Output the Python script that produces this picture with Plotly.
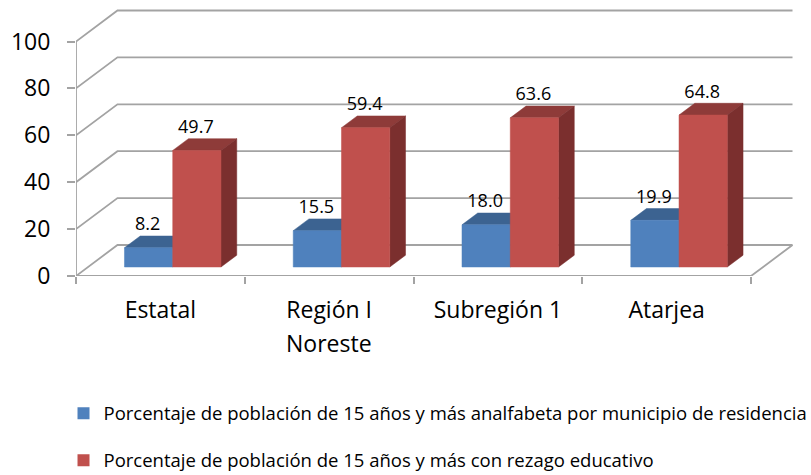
import plotly.graph_objects as go

categories = ["Estatal", "Región I", "Subregión 1", "Atarjea"]
analfabeta = [8.2, 15.5, 18.0, 19.9]
rezago = [49.7, 59.4, 63.6, 64.8]
y_ticks = [0, 20, 40, 60, 80, 100]
name_a = "Porcentaje de población de 15 años y más analfabeta por municipio de residencia"
name_b = "Porcentaje de población de 15 años y más con rezago educativo"

FONT = "Open Sans, sans-serif"
W, H = 811, 475
X0, X4, Y0, Y100 = 75.5, 751.0, 276.0, 41.5
PX_X = (X4 - X0) / 4
PX_Y = (Y0 - Y100) / 100
DEPTH_X = 41.5 / PX_X        # back wall shift in x units
DEPTH_Y = 31.0 / PX_Y        # back wall shift in y units
BAR_W = 48.3 / PX_X
D0, D1 = 0.29, 0.67
BAR_START = (124 - X0) / PX_X - D0 * DEPTH_X
GRID = "#a3a3a3"
TXT = "#000000"


def P(x, y, d):
    return x + d * DEPTH_X, y + d * DEPTH_Y


def poly(points):
    xs, ys = zip(*points)
    return list(xs) + [xs[0], None], list(ys) + [ys[0], None]


def faces(values, shift):
    front, top, side = ([], []), ([], []), ([], [])
    for i, v in enumerate(values):
        a = i + BAR_START + shift
        b = a + BAR_W
        for store, pts in (
            (front, [P(a, 0, D0), P(b, 0, D0), P(b, v, D0), P(a, v, D0)]),
            (top, [P(a, v, D0), P(b, v, D0), P(b, v, D1), P(a, v, D1)]),
            (side, [P(b, 0, D0), P(b, 0, D1), P(b, v, D1), P(b, v, D0)]),
        ):
            xs, ys = poly(pts)
            store[0].extend(xs)
            store[1].extend(ys)
    return front, top, side


def fill(data, color):
    return go.Scatter(x=data[0], y=data[1], mode="lines", fill="toself", fillcolor=color,
                      line=dict(color=color, width=0.5), hoverinfo="skip", showlegend=False)


fig = go.Figure()

# walls and floor
gx, gy = [], []
for t in y_ticks:
    for p in (P(0, t, 0), P(0, t, 1), P(4, t, 1)):
        gx.append(p[0]); gy.append(p[1])
    gx.append(None); gy.append(None)
for p in (P(0, 0, 0), P(4, 0, 0), P(4, 0, 1)):
    gx.append(p[0]); gy.append(p[1])
gx.append(None); gy.append(None)
for p in (P(0, 0, 0), P(0, 100, 0)):
    gx.append(p[0]); gy.append(p[1])
fig.add_trace(go.Scatter(x=gx, y=gy, mode="lines", line=dict(color=GRID, width=1.8),
                         hoverinfo="skip", showlegend=False, cliponaxis=False))

fa, ta, sa = faces(analfabeta, 0)
fb, tb, sb = faces(rezago, BAR_W)
fig.add_trace(fill(ta, "#3c6391"))
fig.add_trace(fill(sa, "#3a5f8b"))
fig.add_trace(fill(fa, "#4f81bd"))
fig.add_trace(fill(tb, "#8e3b39"))
fig.add_trace(fill(sb, "#7b2f2e"))
fig.add_trace(fill(fb, "#c0504d"))

# data labels
LIFT = 22 / PX_Y
for vals, shift in ((analfabeta, 0), (rezago, BAR_W)):
    xs, ys, tx = [], [], []
    for i, v in enumerate(vals):
        px, py = P(i + BAR_START + shift + BAR_W / 2, v + LIFT, D0)
        xs.append(px - 1 / PX_X); ys.append(py); tx.append(f"{v:.1f}")
    fig.add_trace(go.Scatter(x=xs, y=ys, text=tx, mode="text", textposition="middle center",
                             textfont=dict(family=FONT, size=18, color=TXT),
                             hoverinfo="skip", showlegend=False))

# legend entries
for name, color, grp in ((name_a, "#4f81bd", "a"), (name_b, "#c0504d", "b")):
    fig.add_trace(go.Scatter(x=[None], y=[None], mode="markers", name=name, legendgroup=grp,
                             marker=dict(symbol="square", size=12, color=color)))

PLOT_W, PLOT_H = 806 - X0, Y0 - 5
fig.update_layout(
    width=W, height=H, template="none",
    margin=dict(l=X0, r=W - 806, t=5, b=H - Y0, pad=0, autoexpand=False),
    paper_bgcolor="white", plot_bgcolor="white",
    font=dict(family=FONT, color=TXT),
    xaxis=dict(range=[0, PLOT_W / PX_X], tickmode="array",
               tickvals=[i + 0.5 for i in range(4)], ticktext=categories,
               tickfont=dict(size=23, family=FONT, color=TXT), ticks="", showline=False,
               showgrid=False, zeroline=False, automargin=False, ticklabelstandoff=18,
               minor=dict(tickmode="array", tickvals=[0, 1, 2, 3, 4], ticks="outside",
                          ticklen=7, tickwidth=1.8, tickcolor=GRID, showgrid=False)),
    yaxis=dict(range=[0, PLOT_H / PX_Y], tickmode="array", tickvals=y_ticks,
               tickfont=dict(size=23, family=FONT, color=TXT), ticks="outside", ticklen=8,
               tickwidth=1.8, tickcolor=GRID, showline=False, showgrid=False, zeroline=False,
               automargin=False, ticklabelstandoff=12),
    legend=dict(x=(63 - X0) / PLOT_W, xanchor="left", y=-0.438, yanchor="top",
                traceorder="grouped", tracegroupgap=20, bgcolor="rgba(0,0,0,0)",
                font=dict(family=FONT, size=18.5, color=TXT), itemclick=False, itemdoubleclick=False),
    annotations=[dict(text="Noreste", xref="paper", yref="paper", x=(329 - X0) / PLOT_W,
                      y=(Y0 - 343) / PLOT_H, showarrow=False,
                      font=dict(size=23, family=FONT, color=TXT),
                      xanchor="center", yanchor="middle")],
)

fig.write_html("out.html", config=dict(displayModeBar=False),
               post_script="document.body.style.margin='0';")
